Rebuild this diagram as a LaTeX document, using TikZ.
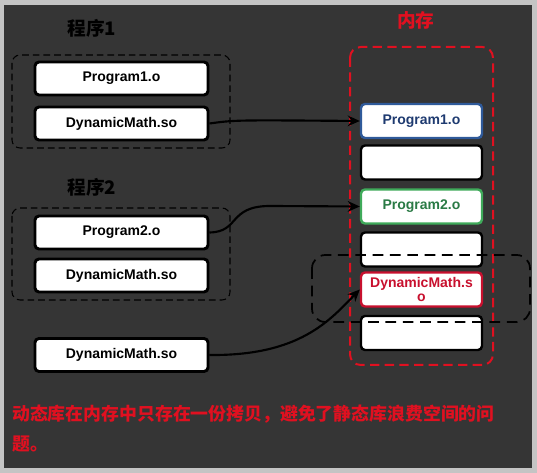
\documentclass[tikz,border=0pt]{standalone}
\usepackage{fontspec}
\setmainfont{Liberation Sans}
\newfontfamily\cjk{Noto Sans CJK SC}
\usetikzlibrary{arrows.meta}
\definecolor{bg}{HTML}{353535}
\definecolor{frame}{HTML}{C4C4C4}
\definecolor{memred}{HTML}{E01020}
\definecolor{pblue}{HTML}{2F5A9A}
\definecolor{pbluetext}{HTML}{1E3A70}
\definecolor{pgreen}{HTML}{3FAA5A}
\definecolor{pgreentext}{HTML}{2A7A45}
\definecolor{dred}{HTML}{C8102E}
\begin{document}
\begin{tikzpicture}[x=0.75pt,y=-0.75pt,
  lbox/.style={draw=black, fill=white, line width=2.2pt, rounded corners=3pt,
    minimum width=129.75pt, minimum height=24.75pt, inner sep=0pt,
    font=\bfseries\fontsize{10.5}{12}\selectfont},
  mbox/.style={draw=black, fill=white, line width=1.8pt, rounded corners=3pt,
    minimum width=90.75pt, minimum height=25.5pt, inner sep=0pt, align=center,
    font=\bfseries\fontsize{10.5}{11}\selectfont},
  grp/.style={draw=black, dashed, line width=0.8pt, rounded corners=6pt, dash pattern=on 5pt off 3pt},
  conn/.style={draw=black, line width=1.6pt, -{Stealth[length=9pt,width=8pt]}},
  title/.style={font=\cjk\bfseries\fontsize{14}{16}\selectfont},
]
\useasboundingbox (0,0) rectangle (537,473);
\fill[frame] (0,0) rectangle (537,473);
\fill[bg] (4,5) rectangle (532,468);

% titles
\node[title, text=black] (t1) at (92,28) {程序1};
\node[title, text=black] (t2) at (92,187) {程序2};
\node[title, text=memred] (tm) at (416,20) {内存};

% groups
\draw[grp] (12,55) rectangle (230,148);
\draw[grp] (12,208) rectangle (230,300);
\draw[memred, dashed, line width=1.5pt, rounded corners=8pt, dash pattern=on 7pt off 4pt] (350,47) rectangle (493,365);

% left boxes
\node[lbox] (p1) at (121.5,78.5) {Program1.o};
\node[lbox] (d1) at (121.5,123.5) {DynamicMath.so};
\node[lbox] (p2) at (121.5,232.5) {Program2.o};
\node[lbox] (d2) at (121.5,275.5) {DynamicMath.so};
\node[lbox] (d3) at (121.5,355) {DynamicMath.so};

% memory boxes
\node[mbox, draw=pblue, text=pbluetext] (m1) at (421.5,121) {Program1.o};
\node[mbox] (m2) at (421.5,162.5) {};
\node[mbox, draw=pgreen, text=pgreentext] (m3) at (421.5,206.5) {Program2.o};
\node[mbox] (m4) at (421.5,249.5) {};
\node[mbox, draw=dred, text=dred] (m5) at (421.5,289.5) {DynamicMath.s\\o};
\node[mbox] (m6) at (421.5,333) {};

% shared region
\draw[black, line width=1.3pt, rounded corners=10pt, dash pattern=on 8pt off 5pt] (312,255) rectangle (530,322);

% connectors
\draw[conn] (d1.east) .. controls (235,120) .. (m1.west);
\draw[conn] (p2.east) .. controls (240,232) and (228,206) .. (270,206) -- (m3.west);
\draw[conn] (d3.east) .. controls (300,356) and (330,320) .. (m5.west);

% note
\node[anchor=north west, text=memred, align=left, inner sep=0pt,
  font=\cjk\bfseries\fontsize{13.4}{22.5}\selectfont] (note) at (12,405)
  {动态库在内存中只存在一份拷贝，避免了静态库浪费空间的问\\题。};
\end{tikzpicture}
\end{document}
